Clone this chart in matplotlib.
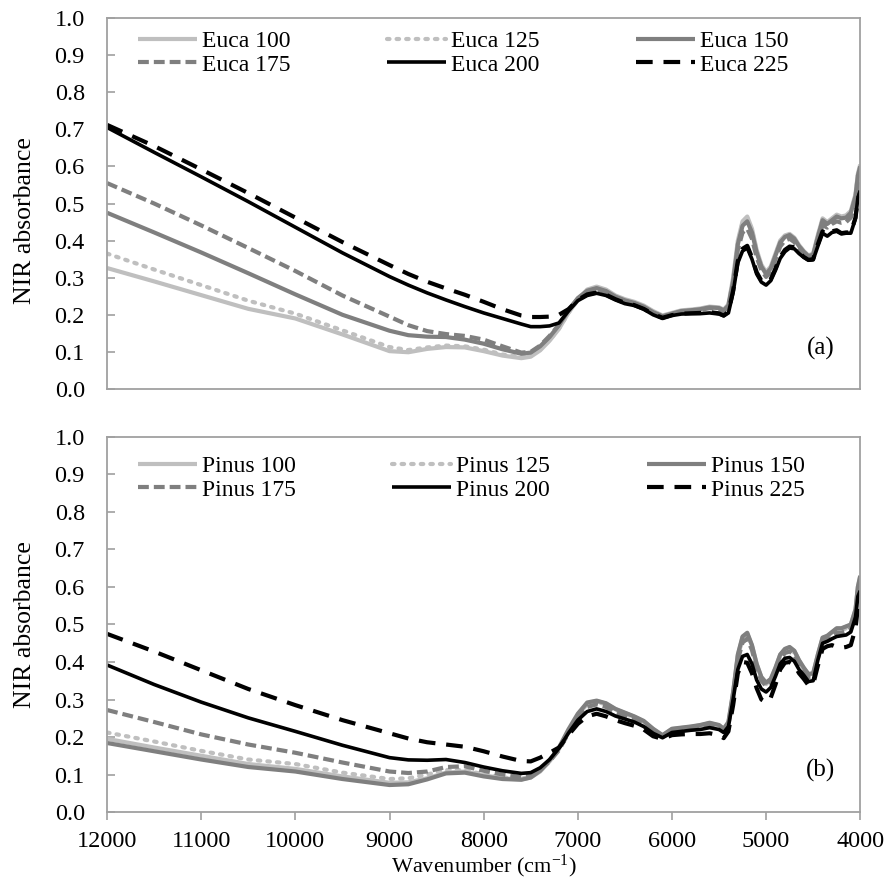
import matplotlib
matplotlib.use("Agg")
import matplotlib.pyplot as plt

# ================= FONTS =================
plt.rcParams['font.family'] = ['Liberation Serif', 'DejaVu Serif']
plt.rcParams['mathtext.fontset'] = 'custom'
plt.rcParams['mathtext.rm'] = 'Liberation Serif'
plt.rcParams['mathtext.default'] = 'regular'

# ================= DATA =================
wavenumber = [12000, 11500, 11000, 10500, 10000, 9500, 9000, 8800, 8600, 8400,
              8200, 8000, 7800, 7600, 7500, 7400, 7300, 7200, 7100, 7000,
              6900, 6800, 6700, 6600, 6500, 6400, 6300, 6200, 6100, 6000,
              5900, 5800, 5700, 5600, 5500, 5450, 5400, 5350, 5300, 5250,
              5200, 5150, 5100, 5050, 5000, 4950, 4900, 4850, 4800, 4750,
              4700, 4650, 4600, 4550, 4500, 4450, 4400, 4350, 4300, 4250,
              4200, 4150, 4100, 4050, 4025, 4000]

# --- Eucalyptus (panel a) ---
euca_100 = [0.326, 0.290, 0.253, 0.216, 0.190, 0.147, 0.102, 0.099, 0.108, 0.113,
            0.112, 0.102, 0.090, 0.083, 0.087, 0.104, 0.130, 0.162, 0.205, 0.240,
            0.268, 0.276, 0.268, 0.252, 0.242, 0.235, 0.225, 0.210, 0.198, 0.205,
            0.212, 0.214, 0.217, 0.222, 0.220, 0.214, 0.228, 0.300, 0.400, 0.452,
            0.465, 0.432, 0.375, 0.335, 0.315, 0.330, 0.365, 0.400, 0.414, 0.418,
            0.408, 0.388, 0.372, 0.360, 0.365, 0.415, 0.460, 0.450, 0.460, 0.470,
            0.465, 0.468, 0.480, 0.525, 0.580, 0.605]
euca_125 = [0.365, 0.322, 0.280, 0.238, 0.203, 0.158, 0.113, 0.105, 0.112, 0.117,
            0.115, 0.106, 0.093, 0.086, 0.090, 0.107, 0.132, 0.163, 0.205, 0.240,
            0.266, 0.273, 0.265, 0.250, 0.240, 0.233, 0.223, 0.208, 0.197, 0.204,
            0.211, 0.213, 0.216, 0.221, 0.219, 0.213, 0.226, 0.295, 0.395, 0.447,
            0.460, 0.428, 0.372, 0.332, 0.312, 0.327, 0.362, 0.397, 0.411, 0.416,
            0.406, 0.386, 0.370, 0.358, 0.362, 0.412, 0.456, 0.446, 0.456, 0.466,
            0.461, 0.464, 0.476, 0.520, 0.575, 0.598]
euca_150 = [0.475, 0.422, 0.368, 0.312, 0.255, 0.200, 0.157, 0.145, 0.141, 0.140,
            0.133, 0.122, 0.107, 0.095, 0.098, 0.115, 0.140, 0.172, 0.212, 0.245,
            0.265, 0.272, 0.264, 0.249, 0.239, 0.232, 0.222, 0.207, 0.196, 0.203,
            0.210, 0.212, 0.215, 0.220, 0.218, 0.212, 0.225, 0.290, 0.390, 0.440,
            0.452, 0.422, 0.368, 0.330, 0.310, 0.325, 0.360, 0.395, 0.410, 0.415,
            0.405, 0.385, 0.370, 0.358, 0.362, 0.410, 0.455, 0.445, 0.455, 0.465,
            0.460, 0.462, 0.475, 0.520, 0.575, 0.600]
euca_175 = [0.555, 0.500, 0.441, 0.380, 0.318, 0.252, 0.195, 0.172, 0.156, 0.148,
            0.143, 0.133, 0.115, 0.098, 0.100, 0.117, 0.143, 0.173, 0.212, 0.243,
            0.262, 0.268, 0.261, 0.246, 0.236, 0.230, 0.220, 0.205, 0.195, 0.202,
            0.209, 0.211, 0.213, 0.218, 0.216, 0.210, 0.222, 0.282, 0.375, 0.422,
            0.432, 0.405, 0.355, 0.320, 0.302, 0.316, 0.350, 0.384, 0.400, 0.405,
            0.396, 0.377, 0.362, 0.352, 0.356, 0.400, 0.442, 0.435, 0.445, 0.452,
            0.448, 0.450, 0.462, 0.505, 0.560, 0.585]
euca_200 = [0.705, 0.638, 0.572, 0.505, 0.436, 0.367, 0.303, 0.280, 0.259, 0.240,
            0.222, 0.205, 0.190, 0.175, 0.168, 0.168, 0.170, 0.178, 0.210, 0.238,
            0.252, 0.258, 0.252, 0.240, 0.230, 0.225, 0.215, 0.200, 0.190, 0.198,
            0.202, 0.203, 0.203, 0.205, 0.202, 0.197, 0.205, 0.260, 0.340, 0.372,
            0.380, 0.350, 0.310, 0.288, 0.280, 0.292, 0.320, 0.352, 0.370, 0.380,
            0.378, 0.365, 0.355, 0.347, 0.348, 0.385, 0.420, 0.412, 0.422, 0.425,
            0.418, 0.420, 0.420, 0.460, 0.515, 0.535]
euca_225 = [0.712, 0.655, 0.592, 0.528, 0.462, 0.396, 0.334, 0.310, 0.289, 0.271,
            0.254, 0.235, 0.215, 0.198, 0.194, 0.194, 0.195, 0.200, 0.215, 0.240,
            0.255, 0.260, 0.254, 0.242, 0.232, 0.226, 0.216, 0.202, 0.192, 0.199,
            0.203, 0.204, 0.205, 0.207, 0.204, 0.198, 0.208, 0.265, 0.345, 0.378,
            0.386, 0.355, 0.315, 0.292, 0.284, 0.296, 0.325, 0.356, 0.375, 0.384,
            0.382, 0.368, 0.356, 0.348, 0.350, 0.390, 0.425, 0.415, 0.425, 0.428,
            0.420, 0.422, 0.422, 0.462, 0.512, 0.530]

# --- Pinus (panel b) ---
pinus_100 = [0.195, 0.172, 0.150, 0.128, 0.115, 0.095, 0.078, 0.079, 0.090, 0.105,
             0.108, 0.098, 0.090, 0.087, 0.092, 0.108, 0.135, 0.168, 0.215, 0.258,
             0.290, 0.296, 0.289, 0.274, 0.264, 0.254, 0.242, 0.221, 0.204, 0.221,
             0.224, 0.227, 0.231, 0.237, 0.231, 0.221, 0.238, 0.318, 0.418, 0.466,
             0.476, 0.444, 0.394, 0.359, 0.344, 0.354, 0.384, 0.419, 0.434, 0.439,
             0.429, 0.404, 0.384, 0.367, 0.369, 0.419, 0.464, 0.469, 0.479, 0.489,
             0.489, 0.494, 0.499, 0.540, 0.600, 0.628]
pinus_125 = [0.212, 0.188, 0.163, 0.140, 0.128, 0.105, 0.088, 0.090, 0.100, 0.112,
             0.112, 0.100, 0.092, 0.089, 0.094, 0.110, 0.137, 0.170, 0.215, 0.258,
             0.288, 0.294, 0.287, 0.272, 0.262, 0.252, 0.240, 0.219, 0.203, 0.219,
             0.222, 0.225, 0.229, 0.235, 0.229, 0.219, 0.236, 0.315, 0.414, 0.462,
             0.472, 0.440, 0.390, 0.356, 0.341, 0.351, 0.381, 0.415, 0.430, 0.435,
             0.425, 0.400, 0.381, 0.364, 0.366, 0.415, 0.460, 0.465, 0.475, 0.485,
             0.485, 0.490, 0.495, 0.535, 0.595, 0.622]
pinus_150 = [0.184, 0.162, 0.140, 0.120, 0.108, 0.088, 0.072, 0.074, 0.087, 0.103,
             0.105, 0.095, 0.088, 0.086, 0.092, 0.110, 0.138, 0.172, 0.220, 0.262,
             0.292, 0.297, 0.290, 0.275, 0.265, 0.255, 0.243, 0.222, 0.205, 0.222,
             0.225, 0.228, 0.232, 0.238, 0.232, 0.222, 0.240, 0.320, 0.420, 0.468,
             0.478, 0.445, 0.395, 0.360, 0.345, 0.355, 0.385, 0.420, 0.435, 0.440,
             0.430, 0.405, 0.385, 0.368, 0.370, 0.420, 0.465, 0.470, 0.480, 0.490,
             0.490, 0.495, 0.500, 0.540, 0.600, 0.630]
pinus_175 = [0.272, 0.240, 0.207, 0.180, 0.158, 0.132, 0.108, 0.104, 0.108, 0.120,
             0.122, 0.110, 0.100, 0.093, 0.098, 0.112, 0.135, 0.165, 0.210, 0.250,
             0.280, 0.287, 0.280, 0.266, 0.256, 0.247, 0.235, 0.215, 0.200, 0.215,
             0.218, 0.221, 0.224, 0.229, 0.224, 0.215, 0.232, 0.308, 0.405, 0.452,
             0.462, 0.432, 0.383, 0.350, 0.336, 0.346, 0.375, 0.408, 0.424, 0.428,
             0.419, 0.395, 0.376, 0.360, 0.362, 0.410, 0.455, 0.460, 0.470, 0.478,
             0.478, 0.482, 0.488, 0.528, 0.588, 0.615]
pinus_200 = [0.392, 0.340, 0.293, 0.251, 0.215, 0.178, 0.145, 0.139, 0.138, 0.140,
             0.132, 0.120, 0.110, 0.103, 0.105, 0.118, 0.140, 0.170, 0.210, 0.245,
             0.268, 0.275, 0.268, 0.256, 0.248, 0.240, 0.228, 0.210, 0.198, 0.212,
             0.215, 0.218, 0.220, 0.225, 0.220, 0.212, 0.228, 0.300, 0.380, 0.415,
             0.420, 0.395, 0.352, 0.328, 0.320, 0.332, 0.362, 0.395, 0.410, 0.412,
             0.402, 0.380, 0.365, 0.348, 0.350, 0.405, 0.450, 0.455, 0.462, 0.468,
             0.470, 0.472, 0.480, 0.520, 0.575, 0.590]
pinus_225 = [0.475, 0.428, 0.378, 0.328, 0.285, 0.245, 0.210, 0.196, 0.186, 0.180,
             0.174, 0.162, 0.148, 0.136, 0.135, 0.145, 0.158, 0.172, 0.205, 0.235,
             0.255, 0.262, 0.255, 0.245, 0.237, 0.230, 0.220, 0.202, 0.195, 0.205,
             0.207, 0.208, 0.208, 0.210, 0.205, 0.197, 0.215, 0.285, 0.370, 0.400,
             0.398, 0.370, 0.330, 0.300, 0.292, 0.305, 0.340, 0.380, 0.398, 0.400,
             0.392, 0.370, 0.355, 0.338, 0.340, 0.390, 0.435, 0.442, 0.445, 0.440,
             0.438, 0.440, 0.445, 0.490, 0.545, 0.560]

euca_labels = ["Euca 100", "Euca 125", "Euca 150", "Euca 175", "Euca 200", "Euca 225"]
pinus_labels = ["Pinus 100", "Pinus 125", "Pinus 150", "Pinus 175", "Pinus 200", "Pinus 225"]

# ================= STYLES =================
LIGHT = '#BFBFBF'
MID = '#7F7F7F'
styles = [
    dict(color=LIGHT, linestyle='-', lw=3.0),
    dict(color=LIGHT, linestyle=(0, (0.6, 1.7)), lw=3.0, dash_capstyle='round'),
    dict(color=MID, linestyle='-', lw=3.0),
    dict(color=MID, linestyle=(0, (2.6, 1.2)), lw=3.0),
    dict(color='black', linestyle='-', lw=2.6),
    dict(color='black', linestyle=(0, (4.0, 2.6)), lw=3.0),
]

AXCOL = '#A0A0A0'
TICKSIZE = 17.5


def style_axes(ax, show_x, label_y):
    ax.set_xlim(12000, 4000)
    ax.set_ylim(0, 1.0)
    ax.set_yticks([i / 10 for i in range(11)])
    ax.set_yticklabels([f"{i / 10:.1f}" for i in range(11)])
    ax.set_xticks(range(12000, 3999, -1000))
    for sp in ax.spines.values():
        sp.set_color(AXCOL)
        sp.set_linewidth(1.3)
    ax.tick_params(axis='y', direction='in', length=6, width=1.2, color=AXCOL,
                   labelsize=TICKSIZE, pad=16)
    if show_x:
        ax.tick_params(axis='x', direction='out', length=6, width=1.2, color=AXCOL,
                       labelsize=TICKSIZE, pad=8)
    else:
        ax.tick_params(axis='x', length=0, labelbottom=False)
    ax.set_ylabel("NIR absorbance", fontsize=18.5)
    ax.yaxis.set_label_coords(-0.094, label_y)


fig = plt.figure(figsize=(8.85, 8.81), dpi=100)
ax1 = fig.add_axes([0.121, 0.5585, 0.851, 0.421])
ax2 = fig.add_axes([0.121, 0.0783, 0.851, 0.4257])

euca = [euca_100, euca_125, euca_150, euca_175, euca_200, euca_225]
pinus = [pinus_100, pinus_125, pinus_150, pinus_175, pinus_200, pinus_225]

# legend is filled row by row in the original -> reorder for column-wise fill
order = [0, 3, 1, 4, 2, 5]

panels = [(ax1, euca, euca_labels, "(a)", False, 0.966, 0.453),
          (ax2, pinus, pinus_labels, "(b)", True, 0.950, 0.5)]

for ax, series, labels, tag, show_x, leg_y, lab_y in panels:
    lines = []
    for vals, lab, st in zip(series, labels, styles):
        ln, = ax.plot(wavenumber, vals, label=lab, solid_capstyle='butt', **st)
        lines.append(ln)
    style_axes(ax, show_x, lab_y)
    ax.legend([lines[i] for i in order], [labels[i] for i in order],
              loc='upper left', bbox_to_anchor=(0.041, leg_y), ncol=3,
              frameon=False, fontsize=17, handlelength=2.5, handletextpad=0.2,
              columnspacing=4.1, labelspacing=0.08, borderaxespad=0, borderpad=0)
    ax.text(0.947, 0.11, tag, transform=ax.transAxes, fontsize=18,
            ha='center', va='center')

ax2.set_xlabel(r"Wavenumber (cm$^{-1}$)", fontsize=16, labelpad=0)

fig.savefig("out.png", dpi=100)
